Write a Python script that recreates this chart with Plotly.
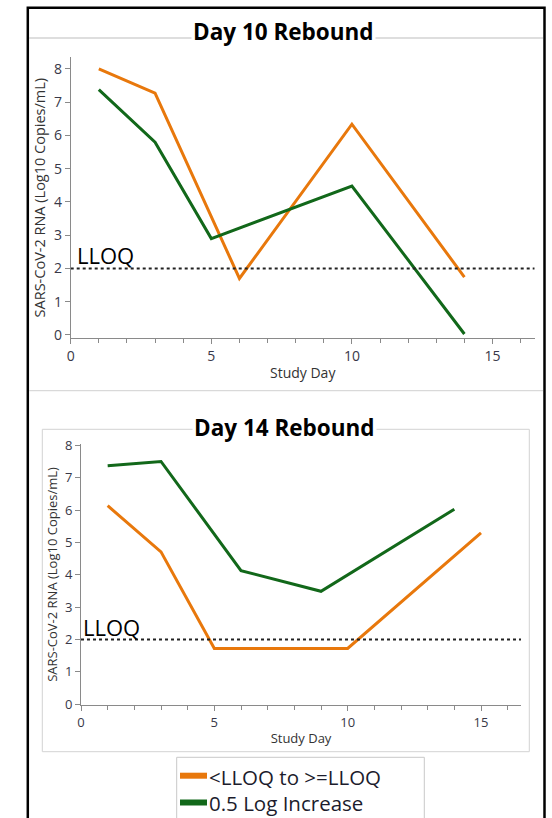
import plotly.graph_objects as go

W, H = 552, 818

def px(x):
    return x / W

def py(y):
    return 1 - y / H

# ---- data ----
day10_orange_x = [1, 3, 6, 10, 14]
day10_orange_y = [8.0, 7.27, 1.70, 6.34, 1.74]
day10_green_x = [1, 3, 5, 10, 14]
day10_green_y = [7.38, 5.80, 2.90, 4.48, 0.03]

day14_green_x = [1, 3, 6, 9, 14]
day14_green_y = [7.38, 7.51, 4.13, 3.49, 6.03]
day14_orange_x = [1, 3, 5, 10, 15]
day14_orange_y = [6.14, 4.71, 1.72, 1.72, 5.30]

series_names = ["<LLOQ to >=LLOQ", "0.5 Log Increase"]
panel_titles = ["Day 10 Rebound", "Day 14 Rebound"]
lloq = 2
x_tick_vals = [0, 5, 10, 15]
y_tick_vals = [0, 1, 2, 3, 4, 5, 6, 7, 8]

ORANGE = "#E8780C"
GREEN = "#12681A"
FONT = "Open Sans"
TICKC = "#383848"
AXC = "#8a8a8a"
COLORS = [ORANGE, GREEN]

fig = go.Figure()

fig.add_trace(go.Scatter(x=day10_orange_x, y=day10_orange_y, mode="lines",
                         line=dict(color=ORANGE, width=3), name=series_names[0],
                         showlegend=False, xaxis="x", yaxis="y"))
fig.add_trace(go.Scatter(x=day10_green_x, y=day10_green_y, mode="lines",
                         line=dict(color=GREEN, width=3), name=series_names[1],
                         showlegend=False, xaxis="x", yaxis="y"))
fig.add_trace(go.Scatter(x=day14_orange_x, y=day14_orange_y, mode="lines",
                         line=dict(color=ORANGE, width=3), name=series_names[0],
                         showlegend=False, xaxis="x2", yaxis="y2"))
fig.add_trace(go.Scatter(x=day14_green_x, y=day14_green_y, mode="lines",
                         line=dict(color=GREEN, width=3), name=series_names[1],
                         showlegend=False, xaxis="x2", yaxis="y2"))


def xaxis_style(domain, anchor, fs):
    return dict(domain=domain, anchor=anchor, range=[0, 16.5], automargin=False,
                tickvals=x_tick_vals, ticks="outside", ticklen=5, tickcolor=AXC,
                showline=True, linecolor=AXC, linewidth=1, showgrid=False,
                zeroline=False, tickfont=dict(family=FONT, size=fs, color=TICKC),
                minor=dict(dtick=1, tick0=0, ticks="outside", ticklen=4, tickcolor=AXC, showgrid=False),
                title=dict(text="Study Day", font=dict(family=FONT, size=fs, color="#333333"), standoff=4))


def yaxis_style(domain, anchor, rng, fs, tfs):
    return dict(domain=domain, anchor=anchor, range=rng, automargin=False,
                tickvals=y_tick_vals, ticks="outside", ticklen=5, tickcolor=AXC,
                showline=True, linecolor=AXC, linewidth=1, showgrid=False,
                zeroline=False, tickfont=dict(family=FONT, size=fs, color=TICKC),
                title=dict(text="SARS-CoV-2 RNA (Log10 Copies/mL)",
                           font=dict(family=FONT, size=tfs, color="#333333"), standoff=4))


fig.update_layout(
    template="none",
    width=W, height=H,
    margin=dict(l=0, r=0, t=0, b=0, pad=0),
    paper_bgcolor="white", plot_bgcolor="white",
    xaxis=xaxis_style([px(70.7), px(534.7)], "y", 14),
    yaxis=yaxis_style([py(338.3), py(57)], "x", [-0.1, 8.36], 14, 14.5),
    xaxis2=xaxis_style([px(81), px(521)], "y2", 13),
    yaxis2=yaxis_style([py(705), py(444)], "x2", [-0.03, 8.05], 13, 13),
    showlegend=False,
)


def open_frame(x0, x1, ytop, ybot=H):
    return "M{},{} L{},{} L{},{} L{},{}".format(
        px(x0), py(ybot), px(x0), py(ytop), px(x1), py(ytop), px(x1), py(ybot))


shapes = [
    dict(type="path", xref="paper", yref="paper", path=open_frame(27.8, 544.5, 7.8),
         line=dict(color="black", width=2.5)),
    dict(type="line", xref="paper", yref="paper", x0=px(29), x1=px(543),
         y0=py(38), y1=py(38), line=dict(color="#bdbdbd", width=1)),
    dict(type="line", xref="paper", yref="paper", x0=px(29), x1=px(543),
         y0=py(390.7), y1=py(390.7), line=dict(color="#d0d0d0", width=1)),
    dict(type="rect", xref="paper", yref="paper", x0=px(42.3), x1=px(529.3),
         y0=py(751.7), y1=py(429.3), line=dict(color="#d3d3d3", width=1)),
    dict(type="path", xref="paper", yref="paper", path=open_frame(176.7, 424.3, 757.3),
         line=dict(color="#c8c8c8", width=1)),
    dict(type="line", xref="x", yref="y", x0=0, x1=16.5, y0=lloq, y1=lloq,
         line=dict(color="#222222", width=2, dash="3px,3px")),
    dict(type="line", xref="x2", yref="y2", x0=0, x1=16.5, y0=lloq, y1=lloq,
         line=dict(color="#222222", width=2, dash="3px,3px")),
]

annotations = [
    dict(text="<b>" + panel_titles[0] + "</b>", xref="paper", yref="paper",
         x=px(283.5), y=py(32), xanchor="center", yanchor="middle", showarrow=False,
         bgcolor="white", font=dict(family=FONT, size=22.5, color="black")),
    dict(text="<b>" + panel_titles[1] + "</b>", xref="paper", yref="paper",
         x=px(284), y=py(427), xanchor="center", yanchor="middle", showarrow=False,
         bgcolor="white", font=dict(family=FONT, size=22.5, color="black")),
    dict(text="LLOQ", xref="paper", yref="paper", x=px(75), y=py(255),
         xanchor="left", yanchor="middle", showarrow=False,
         font=dict(family=FONT, size=22, color="black")),
    dict(text="LLOQ", xref="paper", yref="paper", x=px(81), y=py(627),
         xanchor="left", yanchor="middle", showarrow=False,
         font=dict(family=FONT, size=22, color="black")),
]

# legend drawn inside the page (swatch y, text anchor y, text yanchor)
legend_rows = [(775.7, 776.8, "middle"), (802.5, 818, "bottom")]
for nm, col, (ys, yt, ya) in zip(series_names, COLORS, legend_rows):
    shapes.append(dict(type="line", xref="paper", yref="paper", x0=px(180), x1=px(207),
                       y0=py(ys), y1=py(ys), line=dict(color=col, width=6)))
    annotations.append(dict(text=nm, xref="paper", yref="paper", x=px(207.5), y=py(yt),
                            xanchor="left", yanchor=ya, showarrow=False, borderpad=0,
                            font=dict(family=FONT, size=20.5, color="#1c1c2c")))

fig.update_layout(shapes=shapes, annotations=annotations)

fig.write_html("out.html")
